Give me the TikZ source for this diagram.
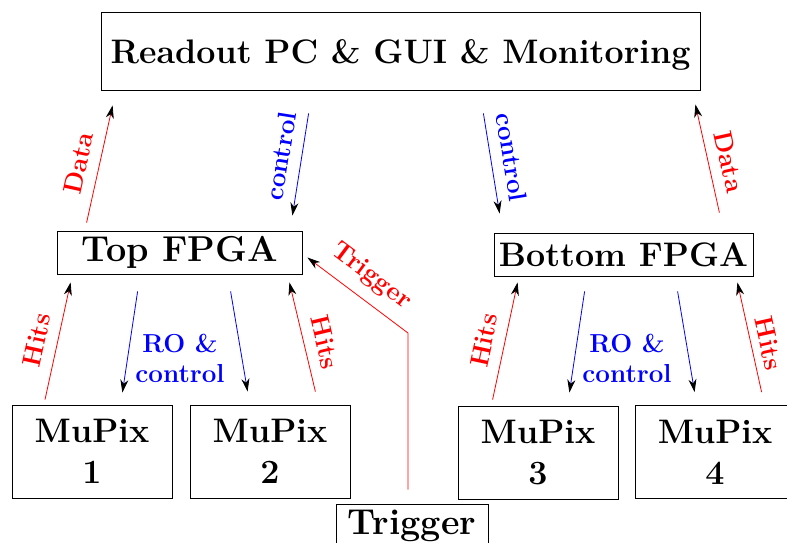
\documentclass[tikz,border=0pt]{standalone}
\usetikzlibrary{arrows.meta,calc}
\begin{document}
\begin{tikzpicture}[x=1pt,y=-1pt,
  box/.style={draw=black, line width=0.8pt, inner sep=0pt,
    font=\fontsize{34}{41}\selectfont\bfseries},
  bigbox/.style={box, font=\fontsize{36}{43}\selectfont\bfseries},
  oneline/.style={text depth=0pt},
  lbl/.style={font=\fontsize{26}{30}\selectfont\bfseries},
  conn/.style={line width=0.8pt, -{Stealth[black,length=13pt,width=8pt,inset=4pt]}},
  datal/.style={conn, red},
  ctrl/.style={conn, blue},
  tagbase/.style={lbl, sloped, inner sep=1pt},
  tag/.style={tagbase, above=10.3pt}]
\useasboundingbox (0,0) rectangle (787,542);
\clip (0,0) rectangle (787,542);

% boxes
\node[box, oneline, minimum width=599pt, minimum height=78pt] (ro) at (400.5,51)
  {Readout PC \& GUI \& Monitoring};
\node[bigbox, minimum width=245pt, minimum height=43pt] (top) at (179.5,252.5) {Top FPGA};
\node[box, oneline, minimum width=259pt, minimum height=43pt] (bot) at (623.5,254.5) {Bottom FPGA};
\node[box, align=center, minimum width=160pt, minimum height=93pt] (m1) at (92,451.5) {MuPix\\1};
\node[box, align=center, minimum width=160pt, minimum height=93pt] (m2) at (270,451.5) {MuPix\\2};
\node[box, align=center, minimum width=160pt, minimum height=93pt] (m3) at (538,452.5) {MuPix\\3};
\node[box, align=center, minimum width=160pt, minimum height=93pt] (m4) at (715,452) {MuPix\\4};
\node[bigbox, minimum width=152pt, minimum height=44pt] (trig) at (412,526) {Trigger};

% readout / control labels between FPGA and chips
\node[lbl, blue, align=center] (rol) at (180,358) {RO \&\\control};
\node[lbl, blue, align=center] (ror) at (627,358) {RO \&\\control};

% PC <-> top FPGA
\draw[datal] ($(top.north west)+(30,-8)$) -- node[tag, red, pos=0.47] {Data} ($(ro.south west)+(12,15)$);
\draw[ctrl] ($(ro.south west)+(208,23)$) -- node[tag, blue, pos=0.45] {control} ($(top.north east)+(-10,-15)$);

% PC <-> bottom FPGA
\draw[ctrl] ($(ro.south east)+(-217,23)$) -- node[tag, blue, pos=0.47] {control} ($(bot.north west)+(6,-19)$);
\draw[datal] ($(bot.north east)+(-34,-20)$) -- node[tag, red, pos=0.43] {Data} ($(ro.south east)+(-5,14)$);

% top FPGA <-> MuPix 1, 2
\draw[datal] ($(m1.north)+(-47,-5)$) -- node[tag, red, pos=0.47] {Hits} ($(top.south west)+(14,8)$);
\draw[ctrl] ($(top.south west)+(81,17)$) -- ($(m1.north east)+(-50,-12)$);
\draw[ctrl] ($(top.south west)+(174,17)$) -- ($(m2.north west)+(58,-13)$);
\draw[datal] ($(m2.north east)+(-35,-13)$) -- node[tag, red, pos=0.41] {Hits} ($(top.south east)+(-13,8)$);

% bottom FPGA <-> MuPix 3, 4
\draw[datal] ($(m3.north west)+(35,-6)$) -- node[tag, red, pos=0.47] {Hits} ($(bot.south west)+(24,6)$);
\draw[ctrl] ($(bot.south west)+(91,15)$) -- ($(m3.north east)+(-49,-13)$);
\draw[ctrl] ($(bot.south west)+(184,15)$) -- ($(m4.north west)+(60,-13)$);
\draw[datal] ($(m4.north west)+(127,-13)$) -- node[tagbase, above=7pt, red, pos=0.41] {Hits} ($(bot.south east)+(-16,6)$);

% trigger line
\coordinate (tbend) at (408,333);
\draw[datal] ($(trig.north)+(-4,-14)$) -- (tbend) -- node[tag, red, midway] {Trigger} ($(top.east)+(5,5)$);
\end{tikzpicture}
\end{document}
